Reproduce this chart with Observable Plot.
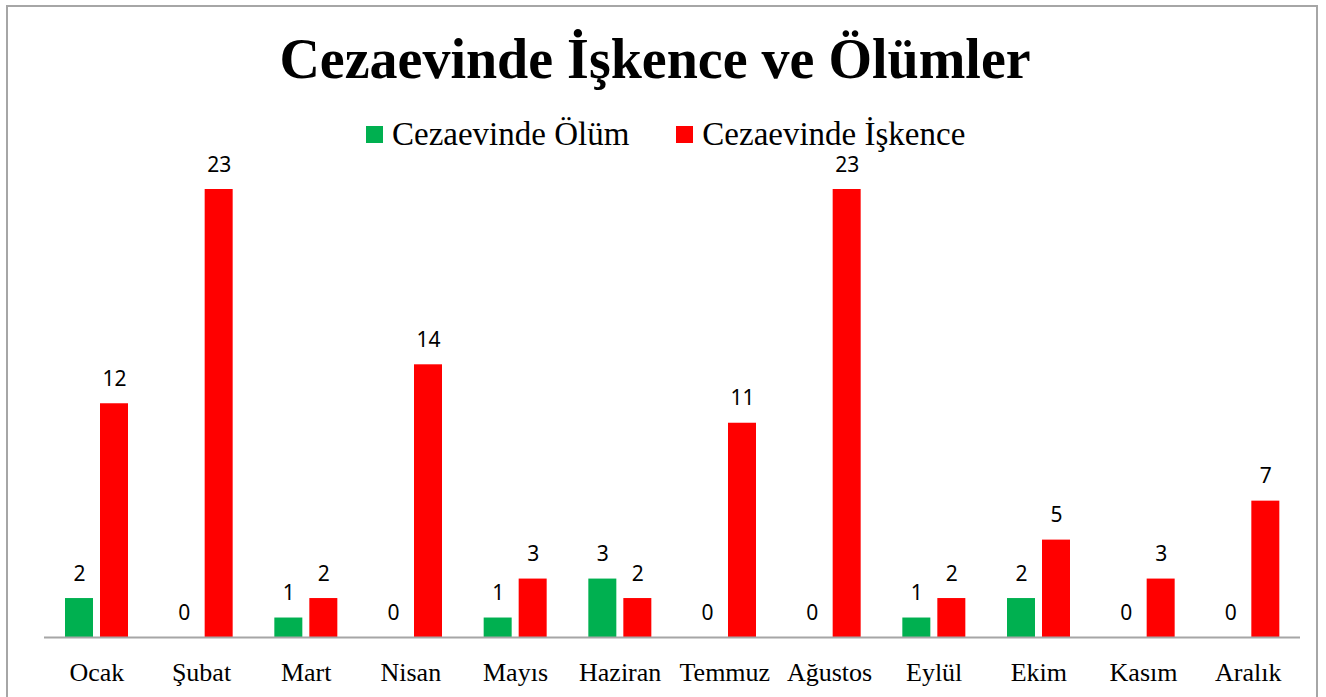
<!DOCTYPE html>
<html>
<head>
<meta charset="utf-8">
<script src="https://cdn.jsdelivr.net/npm/d3@7"></script>
<script src="https://cdn.jsdelivr.net/npm/@observablehq/plot@0.6"></script>
<style>
  html, body { margin: 0; padding: 0; background: #fff; }
  #wrap { position: relative; width: 1326px; height: 697px; overflow: hidden; }
  #frame { position: absolute; left: 6px; top: 5px; width: 1312px; height: 720px; border: 2px solid #a6a6a6; box-sizing: border-box; pointer-events: none; }
  #title { position: absolute; left: 0; top: 31px; width: 1310px; text-align: center; font: bold 56px "Liberation Serif", serif; line-height: 56px; color: #000; }
  #legend { position: absolute; left: 366px; top: 116px; display: flex; align-items: center; font: 33px "Liberation Serif", serif; line-height: 36px; color: #000; }
  .item { display: flex; align-items: center; }
  .sw { width: 17px; height: 17px; margin-right: 9px; }
  #chart { position: absolute; left: 0; top: 150px; }
</style>
</head>
<body>
<div id="wrap">
  <div id="title">Cezaevinde İşkence ve Ölümler</div>
  <div id="legend"></div>
  <div id="chart"></div>
  <div id="frame"></div>
</div>
<script>
const months = ["Ocak","Şubat","Mart","Nisan","Mayıs","Haziran","Temmuz","Ağustos","Eylül","Ekim","Kasım","Aralık"];
const olum = [2,0,1,0,1,3,0,0,1,2,0,0];
const iskence = [12,23,2,14,3,2,11,23,2,5,3,7];
const seriesNames = ["Cezaevinde Ölüm", "Cezaevinde İşkence"];
const seriesColors = ["#00b050", "#ff0000"];

const dOlum = months.map((m, i) => ({month: m, value: olum[i]}));
const dIsk = months.map((m, i) => ({month: m, value: iskence[i]}));

const legend = document.getElementById("legend");
seriesNames.forEach((name, i) => {
  const it = document.createElement("div");
  it.className = "item";
  if (i > 0) it.style.marginLeft = "47px";
  const sw = document.createElement("div");
  sw.className = "sw";
  sw.style.background = seriesColors[i];
  const tx = document.createElement("span");
  tx.textContent = name;
  it.appendChild(sw); it.appendChild(tx);
  legend.appendChild(it);
});

const W = 1326, H = 547;
const step = (1300 - 44) / months.length;
const chart = Plot.plot({
  width: W,
  height: H,
  marginLeft: 44,
  marginRight: 26,
  marginTop: 39,
  marginBottom: 60,
  x: {domain: months, padding: 0, round: false, label: null, tickSize: 0, tickPadding: 25},
  y: {domain: [0, 23], axis: null},
  style: {background: "transparent"},
  marks: [
    Plot.barY(dOlum, {x: "month", y: "value", fill: seriesColors[0], insetLeft: 21, insetRight: step - 49}),
    Plot.barY(dIsk, {x: "month", y: "value", fill: seriesColors[1], insetLeft: 56, insetRight: step - 84}),
    Plot.ruleY([0], {stroke: "#a6a6a6", strokeWidth: 2}),
    Plot.text(dOlum, {x: "month", y: "value", text: d => String(d.value), dx: -17.3, dy: -24.5, fontSize: 21, fill: "#000", fontFamily: "Noto Sans, sans-serif"}),
    Plot.text(dIsk, {x: "month", y: "value", text: d => String(d.value), dx: 17.7, dy: -24.5, fontSize: 21, fill: "#000", fontFamily: "Noto Sans, sans-serif"}),
    Plot.axisX({tickSize: 0, tickPadding: 25, fontSize: 26, fontFamily: "Liberation Serif, serif", fill: "#000", label: null})
  ]
});
chart.style.fontFamily = "Liberation Serif, serif";
document.getElementById("chart").appendChild(chart);
</script>
</body>
</html>
